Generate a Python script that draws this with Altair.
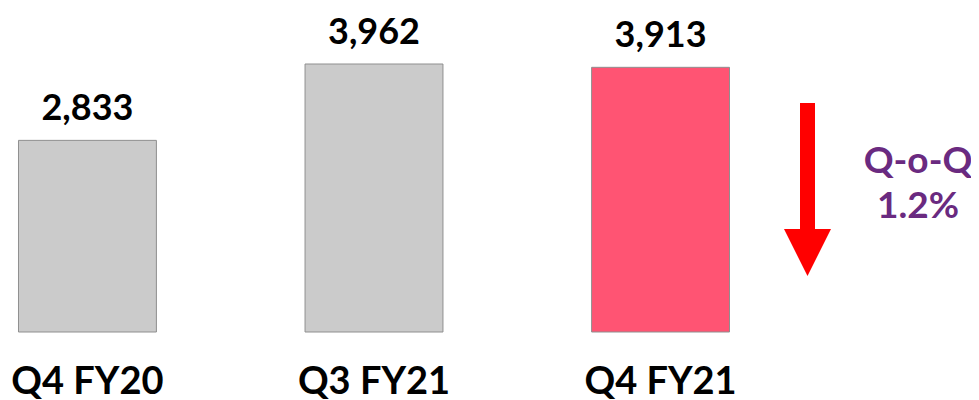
import altair as alt
import pandas as pd

categories = ["Q4 FY20", "Q3 FY21", "Q4 FY21"]
values = [2833, 3962, 3913]
change_lines = ["Q-o-Q", "1.2%"]

df = pd.DataFrame({"quarter": categories, "value": values})
one = pd.DataFrame({"k": [0]})

FONT = "Lato"
W = "bold"

x = alt.X(
    "quarter:N",
    sort=categories,
    scale=alt.Scale(paddingInner=0.5187, paddingOuter=0.0366),
    axis=alt.Axis(
        title=None, labelAngle=0, labelFont=FONT, labelFontSize=38,
        labelFontWeight=W, labelColor="black", labelPadding=61,
        ticks=False, domain=False, labelBaseline="alphabetic", grid=False,
    ),
)
y = alt.Y("value:Q", scale=alt.Scale(domain=[0, 4790]), axis=None)

base = alt.Chart(df)
bars = base.mark_bar(stroke="#8f8f8f", strokeWidth=1).encode(
    x=x, y=y,
    color=alt.condition("datum.quarter == 'Q4 FY21'", alt.value("#FF5473"), alt.value("#CBCBCB")),
)
labels = base.mark_text(
    dy=-20, baseline="alphabetic", font=FONT, fontSize=36, fontWeight=W, color="black"
).encode(x=x, y=y, text=alt.Text("value:Q", format=","))

shaft = alt.Chart(one).mark_rect(color="#FF0000").encode(
    x=alt.value(792), x2=alt.value(807), y=alt.value(95), y2=alt.value(222)
)
head = alt.Chart(one).mark_point(
    shape="M-1,-1L1,-1L0,1Z", size=2209, filled=True, color="#FF0000", opacity=1, strokeWidth=0
).encode(x=alt.value(799.5), y=alt.value(244.5))

ann1 = alt.Chart(one).mark_text(
    font=FONT, fontSize=37, fontWeight=W, color="#6A2A80", baseline="alphabetic", align="center"
).encode(x=alt.value(910), y=alt.value(165), text=alt.value(change_lines[0]))
ann2 = alt.Chart(one).mark_text(
    font=FONT, fontSize=37, fontWeight=W, color="#6A2A80", baseline="alphabetic", align="center"
).encode(x=alt.value(910), y=alt.value(210), text=alt.value(change_lines[1]))

chart = alt.layer(bars, labels, shaft, head, ann1, ann2).properties(
    width=732, height=324,
    autosize=alt.AutoSizeParams(type="none"),
    padding={"left": 0, "top": 0, "right": 231, "bottom": 70},
).configure_view(stroke=None)

chart.save("out.html", embed_options={"renderer": "svg", "actions": False})
